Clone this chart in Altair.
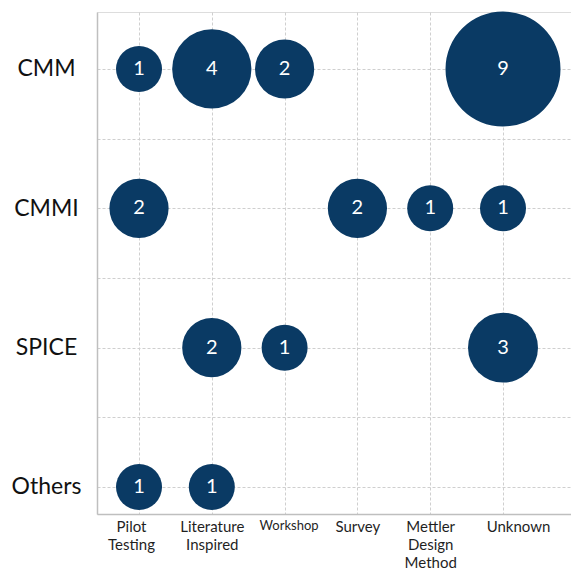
import json
import altair as alt
import pandas as pd

# Categories
models = ["CMM", "CMMI", "SPICE", "Others"]
methods = ["Pilot Testing", "Literature Inspired", "Workshop", "Survey",
           "Mettler Design Method", "Unknown"]

# Observations (model, method, count)
rec_model = ["CMM", "CMM", "CMM", "CMM",
             "CMMI", "CMMI", "CMMI", "CMMI",
             "SPICE", "SPICE", "SPICE",
             "Others", "Others"]
rec_method = ["Pilot Testing", "Literature Inspired", "Workshop", "Unknown",
              "Pilot Testing", "Survey", "Mettler Design Method", "Unknown",
              "Literature Inspired", "Workshop", "Unknown",
              "Pilot Testing", "Literature Inspired"]
rec_count = [1, 4, 2, 9,
             2, 2, 1, 1,
             2, 1, 3,
             1, 1]

df = pd.DataFrame({
    "model": rec_model,
    "method": rec_method,
    "count": rec_count,
})
df["xi"] = [methods.index(m) + 1 for m in df["method"]]
df["yi"] = [len(models) - models.index(m) for m in df["model"]]

FONT = "Lato"
BUBBLE = "#0a3a64"
GRID = "#cfcfcf"
DOMAIN = "#bfbfbf"

X_MAX = 6.934

x_label_expr = (
    "datum.value >= 1 && datum.value <= %d ? split(%s[datum.value - 1], ' ') : ''"
    % (len(methods), json.dumps(methods))
)
y_label_expr = (
    "datum.value %% 1 == 0 ? %s[%d - datum.value] : ''"
    % (json.dumps(models), len(models))
)

x_axis = alt.Axis(
    title=None,
    values=[1, 2, 3, 4, 5, 6, X_MAX],
    labelExpr=x_label_expr,
    grid=True,
    gridColor=GRID,
    gridDash=[3, 2],
    gridWidth=1,
    domainColor=DOMAIN,
    domainWidth=1.5,
    ticks=False,
    tickSize=0,
    labelFont=FONT,
    labelFontSize={"condition": {"test": "datum.value == 3", "value": 13}, "value": 15},
    labelOffset={"condition": [
        {"test": "datum.value == 1", "value": -8},
        {"test": "datum.value == 3", "value": 4},
        {"test": "datum.value == 6", "value": 15},
    ], "value": 0},
    labelColor="#1f1f1f",
    labelPadding=5,
    labelBaseline="top",
    labelLineHeight=18,
    labelOverlap=False,
    labelFlush=False,
    labelBound=False,
)

y_axis = alt.Axis(
    title=None,
    values=[1, 1.5, 2, 2.5, 3, 3.5, 4],
    labelExpr=y_label_expr,
    grid=True,
    gridColor=GRID,
    gridDash=[3, 2],
    gridWidth=1,
    domainColor=DOMAIN,
    domainWidth=1.5,
    ticks=False,
    tickSize=0,
    labelFont=FONT,
    labelFontSize=23,
    labelColor="#111111",
    labelAlign="center",
    labelBaseline="middle",
    labelPadding=51,
    labelOverlap=False,
    labelFlush=False,
    labelBound=False,
)

x_enc = alt.X("xi:Q", scale=alt.Scale(domain=[0.423, X_MAX], nice=False, zero=False), axis=x_axis)
y_enc = alt.Y("yi:Q", scale=alt.Scale(domain=[0.806, 4.409], nice=False, zero=False), axis=y_axis)

base = alt.Chart(df)

bubbles = base.mark_circle(color=BUBBLE, opacity=1).encode(
    x=x_enc,
    y=y_enc,
    size=alt.Size("count:Q", scale=alt.Scale(domain=[1, 9], range=[2116, 13225], zero=False),
                  legend=None),
)

labels = base.mark_text(color="white", font=FONT, fontSize=20, baseline="middle",
                        align="center").encode(
    x=alt.X("xi:Q"),
    y=alt.Y("yi:Q"),
    text=alt.Text("count:Q"),
)

chart = alt.layer(bubbles, labels).properties(
    width=474,
    height=502,
    autosize=alt.AutoSizeParams(type="none"),
    padding={"left": 89, "top": 4, "right": 0, "bottom": 59},
).configure_view(stroke=None).configure(background="white")

chart.save("out.html", embed_options={"renderer": "svg", "actions": False})
